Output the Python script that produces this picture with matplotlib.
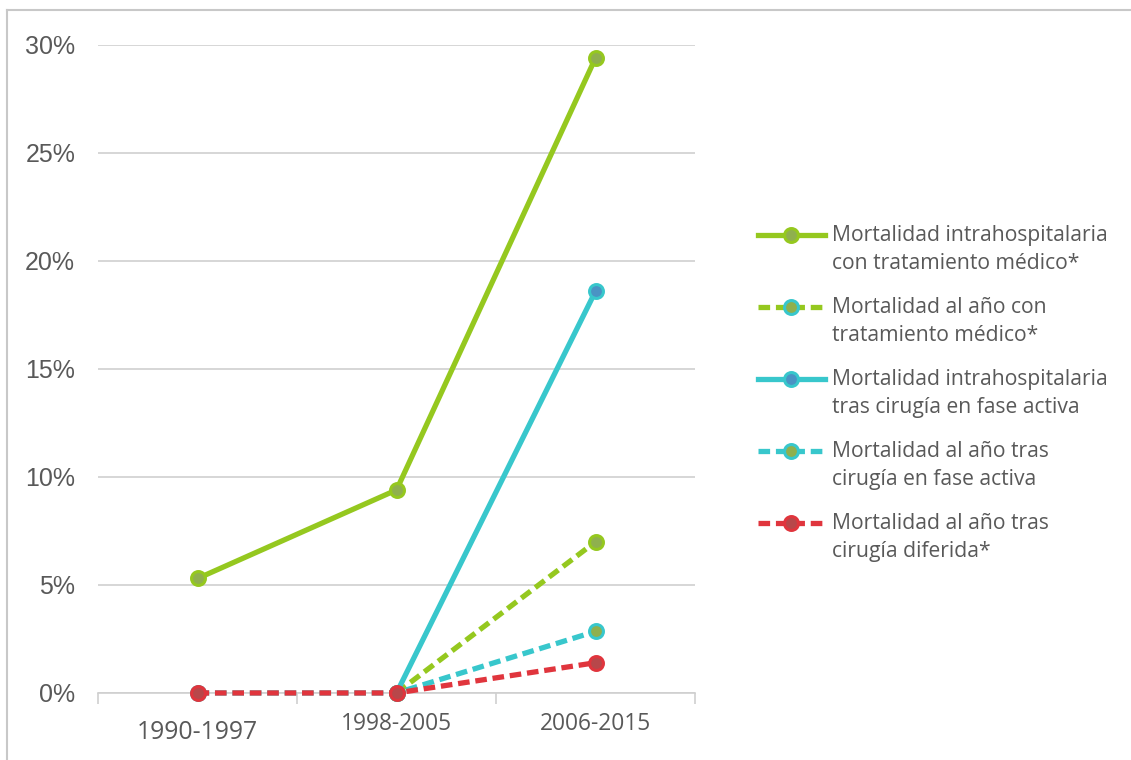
import matplotlib
matplotlib.use("Agg")
import matplotlib.pyplot as plt
from matplotlib.lines import Line2D
from matplotlib.legend_handler import HandlerLine2D
import numpy as np

# Periods and mortality rates (percent)
periods = ["1990-1997", "1998-2005", "2006-2015"]
intrahosp_medico = [5.3, 9.4, 29.4]
anual_medico = [None, 0.0, 7.0]
intrahosp_cirugia_activa = [None, 0.0, 18.6]
anual_cirugia_activa = [0.0, 0.0, 2.85]
anual_cirugia_diferida = [0.0, 0.0, 1.4]

labels = [
    "Mortalidad intrahospitalaria\ncon tratamiento médico*",
    "Mortalidad al año con\ntratamiento médico*",
    "Mortalidad intrahospitalaria\ntras cirugía en fase activa",
    "Mortalidad al año tras\ncirugía en fase activa",
    "Mortalidad al año tras\ncirugía diferida*",
]
yticks = [0, 5, 10, 15, 20, 25, 30]

GREEN = "#95c81f"
CYAN = "#38c7cc"
RED = "#e0353d"
OLIVE = "#8fb04e"
STEEL = "#4a93c4"
DARKRED = "#b8474a"
DASH = (0, (2.2, 1.1))

styles = [
    dict(data=intrahosp_medico, color=GREEN, ls="-", mfc=OLIVE, mec=GREEN, leg_mec=GREEN),
    dict(data=anual_medico, color=GREEN, ls=DASH, mfc=OLIVE, mec=GREEN, leg_mec=CYAN),
    dict(data=intrahosp_cirugia_activa, color=CYAN, ls="-", mfc=STEEL, mec=CYAN, leg_mec=CYAN),
    dict(data=anual_cirugia_activa, color=CYAN, ls=DASH, mfc=OLIVE, mec=CYAN, leg_mec=CYAN),
    dict(data=anual_cirugia_diferida, color=RED, ls=DASH, mfc=DARKRED, mec=RED, leg_mec=RED),
]


class FirstLineHandler(HandlerLine2D):
    """Legend handle aligned with the first line of a two-line label."""

    def __init__(self, lift, **kw):
        super().__init__(**kw)
        self.lift = lift

    def create_artists(self, legend, orig_handle, xdescent, ydescent, width,
                       height, fontsize, trans):
        artists = super().create_artists(legend, orig_handle, xdescent, ydescent,
                                         width, height, fontsize, trans)
        for a in artists:
            a.set_ydata(np.asarray(a.get_ydata(), dtype=float) + self.lift)
        return artists


fig = plt.figure(figsize=(11.31, 7.6), dpi=100)
ax = fig.add_axes([0.0867, 0.0882, 0.5278, 0.8526])

x = np.arange(len(periods))
handles = []
for st in styles:
    vals = np.array([np.nan if v is None else v for v in st["data"]], dtype=float)
    ax.plot(x, vals, color=st["color"], ls=st["ls"], lw=3.8, marker="o", ms=10,
            mfc=st["mfc"], mec=st["mec"], mew=2.2, solid_capstyle="butt",
            dash_capstyle="butt", zorder=3, clip_on=False)
    handles.append(Line2D([0], [0], color=st["color"], ls=st["ls"], lw=3.8, marker="o",
                          ms=10, mfc=st["mfc"], mec=st["leg_mec"], mew=2.2))

ax.set_xlim(-0.5, 2.5)
ax.set_ylim(0, 30)
ax.set_yticks(yticks)
ax.set_yticklabels([f"{t}%" for t in yticks], fontsize=18, color="#595959",
                   family="Liberation Sans")
ax.tick_params(axis="y", length=0, pad=16.5)
ax.grid(axis="y", color="#cfcfcf", lw=1.2, zorder=0)
ax.set_axisbelow(True)

# category labels centred, tick marks on the category boundaries
ax.set_xticks(x)
ax.set_xticklabels(periods, color="#595959", family="Open Sans")
ax.tick_params(axis="x", length=0, pad=14)
for lbl, fs in zip(ax.get_xticklabels(), [17.8, 16.4, 16.4]):
    lbl.set_fontsize(fs)
ax.get_xticklabels()[0].set_y(-0.012)
ax.set_xticks([-0.5, 0.5, 1.5, 2.5], minor=True)
ax.tick_params(axis="x", which="minor", length=8, width=1.2, color="#cfcfcf")

for s in ["left", "right", "top"]:
    ax.spines[s].set_visible(False)
ax.spines["bottom"].set_color("#cfcfcf")
ax.spines["bottom"].set_linewidth(1.2)

leg = fig.legend(handles, labels, loc="upper left", bbox_to_anchor=(0.653, 0.729),
                 frameon=False, handlelength=3.2, handletextpad=0.33,
                 labelspacing=1.08, prop={"family": "Open Sans", "size": 15.2},
                 handler_map={Line2D: FirstLineHandler(lift=11.0)})
for t in leg.get_texts():
    t.set_color("#595959")
    t.set_linespacing(1.45)

# thin frame along the top and left edges
fig.add_artist(Line2D([0.0062, 1.0], [0.987, 0.987], color="#c8c8c8", lw=1.5,
                      transform=fig.transFigure))
fig.add_artist(Line2D([0.0062, 0.0062], [0.0, 0.987], color="#c8c8c8", lw=1.5,
                      transform=fig.transFigure))

fig.savefig("out.png", dpi=100, facecolor="white")
